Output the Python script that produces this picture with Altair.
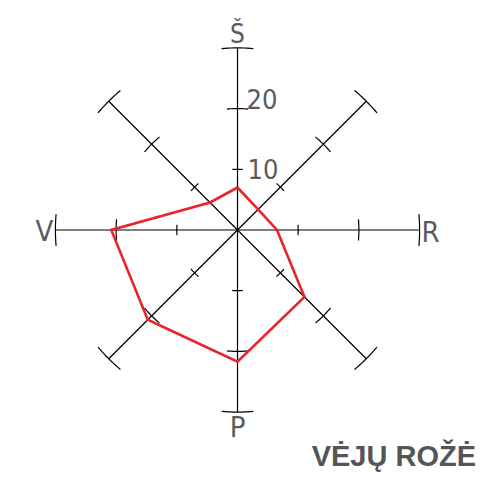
import altair as alt
import pandas as pd
import numpy as np

# ---- data ----
directions = ["Š", "ŠR", "R", "PR", "P", "PV", "V", "ŠV"]
bearings = [0, 45, 90, 135, 180, 225, 270, 315]
frequency = [7.0, 4.8, 6.5, 15.6, 21.7, 20.9, 20.8, 6.4]
tick_values = [10, 20, 30]
axis_max = 30
cardinal_labels = ["Š", "R", "P", "V"]
scale_labels = ["10", "20"]
title_text = "VĖJŲ ROŽĖ"

FONT = "Liberation Sans Narrow, Arial Narrow, DejaVu Sans Condensed, Liberation Sans, Arial"
GRAY = "#5b5b5b"
RED = "#e8252b"

def polar(r, deg):
    a = np.deg2rad(deg)
    return r * np.sin(a), r * np.cos(a)

# spokes
spoke_rows = []
for b in bearings:
    for i, r in enumerate([0, axis_max]):
        x, y = polar(r, b)
        spoke_rows.append({"x": x, "y": y, "g": str(b), "o": i})
spokes = pd.DataFrame(spoke_rows)

# tick arcs (+-5 degrees around each spoke)
arc_rows = []
for b in bearings:
    for t in tick_values:
        for i, d in enumerate(np.linspace(-5, 5, 11)):
            x, y = polar(t, b + d)
            arc_rows.append({"x": x, "y": y, "g": f"{b}-{t}", "o": i})
arcs = pd.DataFrame(arc_rows)

# wind polygon (closed)
poly_rows = []
for i, (d, b, v) in enumerate(list(zip(directions, bearings, frequency)) + [(directions[0], bearings[0], frequency[0])]):
    x, y = polar(v, b)
    poly_rows.append({"x": x, "y": y, "dir": d, "v": v, "o": i})
poly = pd.DataFrame(poly_rows)

xs = alt.Scale(domain=[-37.81, 40.94], nice=False, zero=False)
ys = alt.Scale(domain=[-34.6, 36.57], nice=False, zero=False)
X = lambda: alt.X("x:Q", scale=xs, axis=None)
Y = lambda: alt.Y("y:Q", scale=ys, axis=None)

spoke_layer = alt.Chart(spokes).mark_line(color="black", strokeWidth=1.2).encode(
    x=X(), y=Y(), detail="g:N", order="o:Q")
arc_layer = alt.Chart(arcs).mark_line(color="black", strokeWidth=1.2).encode(
    x=X(), y=Y(), detail="g:N", order="o:Q")
poly_layer = alt.Chart(poly).mark_line(color=RED, strokeWidth=2.6, strokeJoin="miter").encode(
    x=X(), y=Y(), order="o:Q")

def label(text, bearing, r, size, align, dx, dy):
    x, y = polar(r, bearing)
    df = pd.DataFrame({"x": [x], "y": [y], "t": [text]})
    return alt.Chart(df).mark_text(font=FONT, fontSize=size, color=GRAY, align=align,
                                   baseline="alphabetic", dx=dx, dy=dy).encode(
        x=X(), y=Y(), text="t:N")

layers = [spoke_layer, arc_layer, poly_layer,
          label(cardinal_labels[0], 0, axis_max, 26, "center", 0, -5),
          label(cardinal_labels[1], 90, axis_max, 29, "left", 2, 12),
          label(cardinal_labels[2], 180, axis_max, 29, "center", 0, 25),
          label(cardinal_labels[3], 270, axis_max, 29, "right", -2, 11),
          label(scale_labels[0], 0, tick_values[0], 27, "left", 10, 9.5),
          label(scale_labels[1], 0, tick_values[1], 27, "left", 9, 0)]

chart = alt.layer(*layers).properties(
    width=478, height=432, padding=0,
    title=alt.TitleParams(title_text, orient="bottom", anchor="end", font="Liberation Sans, Arial",
                          fontSize=29, fontWeight="bold", color="#555555", offset=0, dx=-10)
).configure_view(stroke=None)

chart.save("out.html", embed_options={"renderer": "svg", "actions": False})
